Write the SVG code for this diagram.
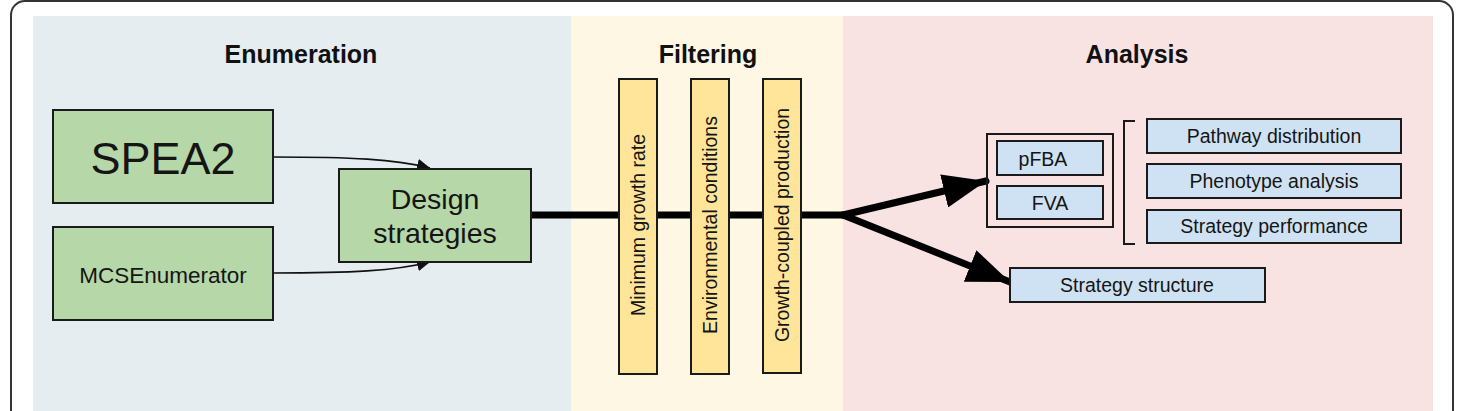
<svg xmlns="http://www.w3.org/2000/svg" width="1458" height="411" viewBox="0 0 1458 411">
  <defs>
    <marker id="arrowSmall" markerUnits="userSpaceOnUse" markerWidth="14" markerHeight="12" refX="13" refY="6" orient="auto">
      <path d="M0,0 L13,6 L0,12 Z" fill="#111"/>
    </marker>
    <marker id="arrowBig" markerUnits="userSpaceOnUse" markerWidth="44" markerHeight="34" refX="43" refY="17" orient="auto">
      <path d="M0,0 L43,17 L0,34 Z" fill="#000"/>
    </marker>
    <style>
      .title { font-family: "Liberation Sans", Arial, sans-serif; font-weight: bold; font-size: 25px; fill: #111; text-anchor: middle; }
      .lbl { font-family: "Liberation Sans", Arial, sans-serif; fill: #151515; text-anchor: middle; }
      .green { fill: #b6d7a8; stroke: #1a1a1a; stroke-width: 2; }
      .bar { fill: #ffe599; stroke: #1a1a1a; stroke-width: 2; }
      .blue { fill: #cfe2f3; stroke: #1a1a1a; stroke-width: 2; }
      .small { font-size: 19.5px; }
      .thin { fill: none; stroke: #111; stroke-width: 1.6; }
      .thick { fill: none; stroke: #000; stroke-width: 7; }
    </style>
  </defs>

  <rect width="1458" height="411" fill="#ffffff"/>

  <!-- stage panels -->
  <g id="panels">
    <rect x="33" y="16" width="538" height="400" fill="#e5edf0"/>
    <rect x="571" y="16" width="272" height="400" fill="#fdf7e4"/>
    <rect x="843" y="16" width="590" height="400" fill="#f9e3e2"/>
    <text class="title" x="301" y="63">Enumeration</text>
    <text class="title" x="708" y="63">Filtering</text>
    <text class="title" x="1137" y="63">Analysis</text>
  </g>

  <!-- outer frame -->
  <rect x="11" y="1" width="1442" height="440" rx="14" fill="none" stroke="#333" stroke-width="2"/>

  <!-- connectors -->
  <g id="connectors">
    <path class="thin" d="M273,157 C350,157 395,159 430,168" marker-end="url(#arrowSmall)"/>
    <path class="thin" d="M273,273 C350,273 395,271 430,262" marker-end="url(#arrowSmall)"/>
    <path class="thick" d="M531,215 L843,215"/>
    <path class="thick" d="M843,215 L986,181" stroke-linecap="round" marker-end="url(#arrowBig)"/>
    <path class="thick" d="M843,215 L1010,282" stroke-linecap="round" marker-end="url(#arrowBig)"/>
  </g>

  <!-- enumeration -->
  <g id="spea2">
    <rect class="green" x="53" y="110" width="220" height="93"/>
    <text class="lbl" x="163" y="174" font-size="45">SPEA2</text>
  </g>
  <g id="mcsenumerator">
    <rect class="green" x="53" y="227" width="220" height="93"/>
    <text class="lbl" x="163" y="283" font-size="22.5">MCSEnumerator</text>
  </g>
  <g id="design-strategies">
    <rect class="green" x="339" y="169" width="192" height="93"/>
    <text class="lbl" x="435" y="209" font-size="28.5">Design</text>
    <text class="lbl" x="435" y="243" font-size="28.5">strategies</text>
  </g>

  <!-- filtering -->
  <g id="filter-growth-rate">
    <rect class="bar" x="619" y="79" width="38" height="295"/>
    <text class="lbl small" transform="translate(645,225) rotate(-90)">Minimum growth rate</text>
  </g>
  <g id="filter-environment">
    <rect class="bar" x="691" y="79" width="38" height="295"/>
    <text class="lbl small" transform="translate(717,225) rotate(-90)">Environmental conditions</text>
  </g>
  <g id="filter-coupling">
    <rect class="bar" x="763" y="79" width="38" height="294"/>
    <text class="lbl small" transform="translate(789,225) rotate(-90)">Growth-coupled production</text>
  </g>

  <!-- analysis -->
  <g id="flux-methods">
    <rect x="987" y="134" width="126" height="93" fill="none" stroke="#1a1a1a" stroke-width="2"/>
  </g>
  <g id="pfba">
    <rect class="blue" x="997" y="141" width="106" height="34"/>
    <text class="lbl small" x="1043" y="166">pFBA</text>
  </g>
  <g id="fva">
    <rect class="blue" x="997" y="186" width="106" height="33"/>
    <text class="lbl small" x="1050" y="210">FVA</text>
  </g>
  <g id="bracket">
    <path d="M1135,121 L1124,121 L1124,244 L1135,244" fill="none" stroke="#1a1a1a" stroke-width="2"/>
  </g>
  <g id="pathway-distribution">
    <rect class="blue" x="1147" y="119" width="254" height="34"/>
    <text class="lbl small" x="1274" y="143">Pathway distribution</text>
  </g>
  <g id="phenotype-analysis">
    <rect class="blue" x="1147" y="164" width="254" height="34"/>
    <text class="lbl small" x="1274" y="188">Phenotype analysis</text>
  </g>
  <g id="strategy-performance">
    <rect class="blue" x="1147" y="210" width="254" height="33"/>
    <text class="lbl small" x="1274" y="233">Strategy performance</text>
  </g>
  <g id="strategy-structure">
    <rect class="blue" x="1010" y="268" width="255" height="34"/>
    <text class="lbl small" x="1137" y="292">Strategy structure</text>
  </g>
</svg>
